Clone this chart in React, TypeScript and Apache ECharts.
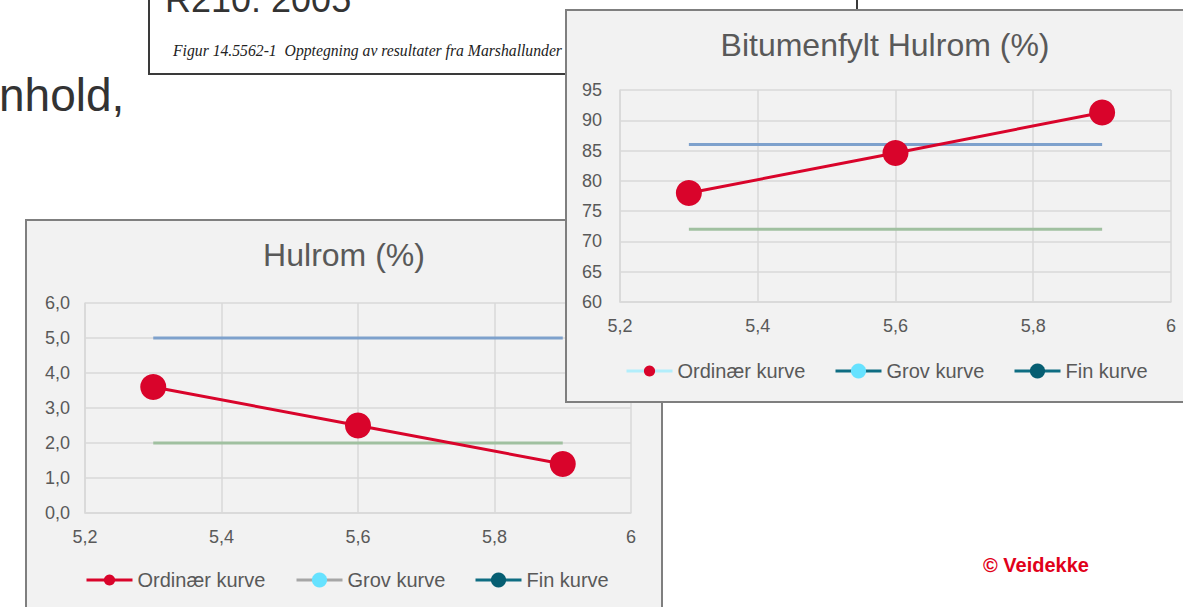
import React, { useEffect, useRef } from "react";
import * as echarts from "echarts";

// ---------- data ----------
const xValues = [5.3, 5.6, 5.9];
const hulromValues = [3.6, 2.5, 1.4];
const bitumenValues = [78.0, 84.6, 91.3];
const limitX = [5.3, 5.9];
const hulromUpper = [5.0, 5.0];
const hulromLower = [2.0, 2.0];
const bitumenUpper = [86, 86];
const bitumenLower = [72, 72];
const legendNames = ["Ordinær kurve", "Grov kurve", "Fin kurve"];

const FONT = "'Liberation Sans', Arial, sans-serif";
const TEXT = "#595959";
const GRID = "#D9D9D9";
const RED = "#D9042B";
const CYAN = "#66E2FF";
const TEAL_LINE = "#0E6D82";
const TEAL_DOT = "#065E72";
const BLUE = "#7EA1CC";
const GREEN = "#A0C0A0";

const fmtX = (v: number) => String(Math.round(v * 10) / 10).replace(".", ",");

type Cfg = {
  title: string;
  values: number[];
  upper: number[];
  lower: number[];
  yMin: number;
  yMax: number;
  yInterval: number;
  yFmt: (v: number) => string;
  yMargin: number;
  grid: { left: number; top: number; width: number; height: number };
  boxW: number;
  boxH: number;
  legendLeft: number[];
  legendTop: number;
  grovLine: string;
  ordLegendLine: string;
};

function makeOption(c: Cfg) {
  const pts = (ys: number[], xs: number[]) => xs.map((x, i) => [x, ys[i]]);
  const legendHeights = [14, 19, 19];
  return {
    animation: false,
    backgroundColor: "#F2F2F2",
    textStyle: { fontFamily: FONT },
    title: {
      text: c.title,
      left: "center",
      top: 20,
      padding: 0,
      textStyle: { fontSize: 32, fontWeight: "normal", color: TEXT, fontFamily: FONT },
    },
    graphic: [
      {
        type: "rect",
        shape: { x: 1, y: 1, width: c.boxW, height: c.boxH },
        style: { fill: "none", stroke: "#7F7F7F", lineWidth: 2 },
        silent: true,
        z: 100,
      },
    ],
    legend: legendNames.map((n, i) => ({
      left: c.legendLeft[i],
      top: c.legendTop,
      padding: 0,
      itemWidth: 46,
      itemHeight: legendHeights[i],
      selectedMode: false,
      lineStyle: { width: 3 },
      textStyle: { fontSize: 20, color: TEXT, fontFamily: FONT },
      data: [i === 0 ? { name: n, lineStyle: { color: c.ordLegendLine, width: 3 } } : { name: n }],
    })),
    grid: c.grid,
    xAxis: {
      type: "value",
      min: 5.2,
      max: 6,
      interval: 0.2,
      axisLine: { show: true, lineStyle: { color: GRID, width: 1.5 } },
      axisTick: { show: false },
      splitLine: { show: true, lineStyle: { color: GRID, width: 1.5 } },
      axisLabel: { fontSize: 18, color: TEXT, margin: 15, formatter: fmtX, fontFamily: FONT },
    },
    yAxis: {
      type: "value",
      min: c.yMin,
      max: c.yMax,
      interval: c.yInterval,
      axisLine: { show: true, lineStyle: { color: GRID, width: 1.5 } },
      axisTick: { show: false },
      splitLine: { show: true, lineStyle: { color: GRID, width: 1.5 } },
      axisLabel: { fontSize: 18, color: TEXT, margin: c.yMargin, formatter: c.yFmt, fontFamily: FONT },
    },
    series: [
      {
        name: "limit-upper",
        type: "line",
        data: pts(c.upper, limitX),
        symbol: "none",
        silent: true,
        lineStyle: { color: BLUE, width: 3 },
        z: 2,
      },
      {
        name: "limit-lower",
        type: "line",
        data: pts(c.lower, limitX),
        symbol: "none",
        silent: true,
        lineStyle: { color: GREEN, width: 3 },
        z: 2,
      },
      {
        name: legendNames[0],
        type: "line",
        data: pts(c.values, xValues),
        symbol: "circle",
        symbolSize: 26,
        lineStyle: { color: RED, width: 3 },
        itemStyle: { color: RED },
        z: 5,
      },
      {
        name: legendNames[1],
        type: "line",
        data: [],
        symbol: "circle",
        lineStyle: { color: c.grovLine, width: 3 },
        itemStyle: { color: CYAN },
      },
      {
        name: legendNames[2],
        type: "line",
        data: [],
        symbol: "circle",
        lineStyle: { color: TEAL_LINE, width: 3 },
        itemStyle: { color: TEAL_DOT },
      },
    ],
  };
}

const hulromCfg: Cfg = {
  title: "Hulrom (%)",
  values: hulromValues,
  upper: hulromUpper,
  lower: hulromLower,
  yMin: 0,
  yMax: 6,
  yInterval: 1,
  yFmt: (v: number) => v.toFixed(1).replace(".", ","),
  yMargin: 15,
  grid: { left: 60, top: 84, width: 546, height: 210 },
  boxW: 636,
  boxH: 420,
  legendLeft: [60, 270, 449],
  legendTop: 351,
  grovLine: "#A6A6A6",
  ordLegendLine: RED,
};

const bitumenCfg: Cfg = {
  title: "Bitumenfylt Hulrom (%)",
  values: bitumenValues,
  upper: bitumenUpper,
  lower: bitumenLower,
  yMin: 60,
  yMax: 95,
  yInterval: 5,
  yFmt: (v: number) => String(v),
  yMargin: 18,
  grid: { left: 55, top: 81, width: 551, height: 212 },
  boxW: 680,
  boxH: 392,
  legendLeft: [60, 269, 448],
  legendTop: 352,
  grovLine: TEAL_LINE,
  ordLegendLine: "#B2EEFB",
};

function Chart({ cfg, style }: { cfg: Cfg; style: React.CSSProperties }) {
  const ref = useRef<HTMLDivElement>(null);
  useEffect(() => {
    if (!ref.current) return;
    const chart = echarts.init(ref.current, undefined, { renderer: "svg" });
    chart.setOption(makeOption(cfg) as any);
    return () => chart.dispose();
  }, [cfg]);
  return <div ref={ref} style={{ position: "absolute", ...style }} />;
}

function Slide() {
  const ref = useRef<HTMLDivElement>(null);
  useEffect(() => {
    if (!ref.current) return;
    const chart = echarts.init(ref.current, undefined, { renderer: "svg" });
    chart.setOption({
      animation: false,
      backgroundColor: "#FFFFFF",
      graphic: [
        {
          type: "text",
          x: -1,
          y: 95,
          style: { text: "nhold,", font: `46px ${FONT}`, fill: "#333333", verticalAlign: "middle" },
        },
        {
          type: "rect",
          shape: { x: 149, y: -20, width: 708, height: 94 },
          style: { fill: "#FFFFFF", stroke: "#3A3A3A", lineWidth: 2 },
        },
        {
          type: "text",
          x: 165,
          y: -1,
          style: { text: "R210: 2005", font: `36px ${FONT}`, fill: "#333333", verticalAlign: "middle" },
        },
        {
          type: "text",
          x: 173,
          y: 50,
          style: {
            text: "Figur 14.5562-1  Opptegning av resultater fra Marshallunder",
            font: `italic 15.7px 'Liberation Serif', 'Times New Roman', serif`,
            fill: "#222222",
            verticalAlign: "middle",
          },
        },
        {
          type: "text",
          x: 983,
          y: 565,
          style: { text: "© Veidekke", font: `bold 20px ${FONT}`, fill: "#E1001A", verticalAlign: "middle" },
        },
      ],
    } as any);
    return () => chart.dispose();
  }, []);
  return <div ref={ref} style={{ position: "absolute", left: 0, top: 0, width: 1183, height: 607 }} />;
}

export default function App() {
  return (
    <div
      style={{
        position: "fixed",
        left: 0,
        top: 0,
        width: 1183,
        height: 607,
        overflow: "hidden",
        background: "#FFFFFF",
      }}
    >
      <Slide />
      <Chart cfg={hulromCfg} style={{ left: 25, top: 219, width: 638, height: 400 }} />
      <Chart cfg={bitumenCfg} style={{ left: 565, top: 9, width: 640, height: 394 }} />
    </div>
  );
}
